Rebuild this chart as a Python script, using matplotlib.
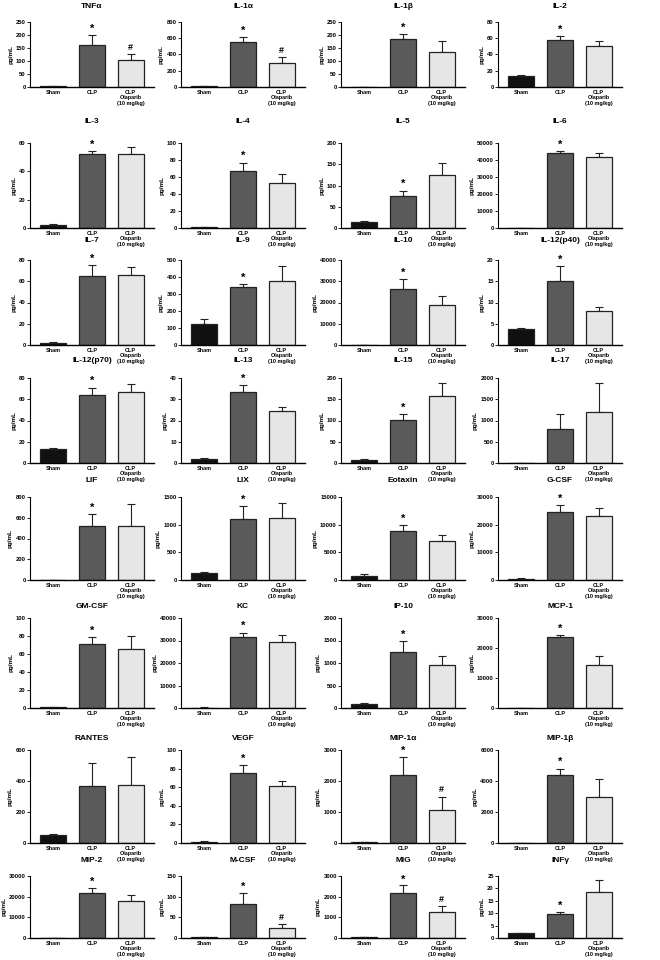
import matplotlib
matplotlib.use("Agg")
import matplotlib.pyplot as plt
import numpy as np

plt.rcParams['font.family'] = ['Liberation Sans', 'DejaVu Sans']
plt.rcParams['font.weight'] = 'bold'

# panel names, in reading order (4 per row)
names = ['TNFα', 'IL-1α', 'IL-1β', 'IL-2',
         'IL-3', 'IL-4', 'IL-5', 'IL-6',
         'IL-7', 'IL-9', 'IL-10', 'IL-12(p40)',
         'IL-12(p70)', 'IL-13', 'IL-15', 'IL-17',
         'LIF', 'LIX', 'Eotaxin', 'G-CSF',
         'GM-CSF', 'KC', 'IP-10', 'MCP-1',
         'RANTES', 'VEGF', 'MIP-1α', 'MIP-1β',
         'MIP-2', 'M-CSF', 'MIG', 'INFγ']

ymax = [250, 800, 250, 80,
        60, 100, 200, 50000,
        80, 500, 40000, 20,
        80, 40, 200, 2000,
        800, 1500, 15000, 30000,
        100, 40000, 2000, 30000,
        600, 100, 3000, 6000,
        30000, 150, 3000, 25]

ystep = [50, 200, 50, 20,
         20, 20, 50, 10000,
         20, 100, 10000, 5,
         20, 10, 50, 500,
         200, 500, 5000, 10000,
         20, 10000, 500, 10000,
         200, 20, 1000, 2000,
         10000, 50, 1000, 5]

sham = [2, 12, 1, 14,
        2, 1, 13, 0,
        2, 125, 0, 3.8,
        13, 2, 8, 0,
        0, 120, 800, 500,
        1, 200, 90, 0,
        50, 1.5, 20, 10,
        0, 2, 40, 2]
sham_err = [1, 5, 0.5, 1,
            1, 0.5, 4, 0,
            0.5, 30, 0, 0.2,
            1, 0.5, 2, 0,
            0, 30, 300, 200,
            0.5, 100, 20, 0,
            10, 0.3, 10, 5,
            0, 0.5, 10, 0.2]

clp = [160, 550, 186, 58,
       52, 67, 76, 44000,
       65, 340, 26500, 15,
       64, 33.5, 102, 800,
       520, 1100, 8900, 24500,
       71, 31500, 1250, 23700,
       370, 75, 2200, 4400,
       22000, 82, 2200, 9.7]
clp_err = [40, 70, 17, 5,
           2.5, 10, 12, 1500,
           10, 20, 4500, 3.5,
           7, 3, 14, 350,
           115, 240, 1000, 2500,
           8, 2000, 230, 700,
           145, 9, 580, 400,
           2200, 28, 350, 0.8]

olap = [105, 290, 134, 51,
        52, 53, 125, 42000,
        66, 378, 19000, 8,
        67, 24.5, 157, 1200,
        520, 1120, 7000, 23000,
        66, 29500, 950, 14200,
        375, 61, 1050, 2950,
        17800, 24, 1270, 18.5]
olap_err = [22, 80, 41, 6,
            5, 10, 27, 2000,
            7, 85, 4000, 1,
            7, 2, 32, 680,
            210, 270, 1200, 3000,
            14, 2800, 200, 3200,
            180, 6, 430, 1150,
            3000, 9, 280, 5]

clp_star = [1, 1, 1, 1, 1, 1, 1, 1, 1, 1, 1, 1, 1, 1, 1, 0,
            1, 1, 1, 1, 1, 1, 1, 1, 0, 1, 1, 1, 1, 1, 1, 1]
olap_hash = [1, 1, 0, 0, 0, 0, 0, 0, 0, 0, 0, 0, 0, 0, 0, 0,
             0, 0, 0, 0, 0, 0, 0, 0, 0, 0, 1, 0, 0, 1, 1, 0]

groups = ['Sham', 'CLP', 'CLP\nOlaparib\n(10 mg/kg)']
colors = ['#111111', '#5a5a5a', '#e6e6e6']

W, H = 660, 960
fig = plt.figure(figsize=(6.6, 9.6), dpi=100)

col_left = [30, 181, 341, 498]
row_title = [7, 121, 241, 360, 480, 606, 738, 860]
row_top = [22, 143, 260, 378, 497, 618, 750, 876]
row_bot = [87, 228, 345, 463, 580, 708, 843, 938]
ax_w = 124

for i, name in enumerate(names):
    r, c = divmod(i, 4)
    left = col_left[c] / W
    bottom = 1 - row_bot[r] / H
    h_px = row_bot[r] - row_top[r]
    ax = fig.add_axes([left, bottom, ax_w / W, h_px / H])

    means = [sham[i], clp[i], olap[i]]
    errs = [sham_err[i], clp_err[i], olap_err[i]]
    x = np.arange(3)
    ax.bar(x, means, width=0.68, color=colors, edgecolor='#222222', linewidth=0.9, zorder=2)
    ax.errorbar(x, means, yerr=[[0, 0, 0], errs], fmt='none', ecolor='#222222',
                elinewidth=0.8, capsize=3, capthick=0.8, zorder=1)

    ax.set_xlim(-0.6, 2.6)
    ax.set_ylim(0, ymax[i])
    ax.set_yticks(np.arange(0, ymax[i] + ystep[i] * 0.5, ystep[i]))
    ax.set_xticks(x)
    ax.set_xticklabels(groups, fontsize=4.0, fontweight='bold', linespacing=1.15)
    ax.tick_params(axis='x', length=0, pad=2)
    ax.tick_params(axis='y', length=2, width=0.6, labelsize=4.2, pad=1)
    for lab in ax.get_yticklabels():
        lab.set_fontweight('bold')
    ax.spines['top'].set_visible(False)
    ax.spines['right'].set_visible(False)
    ax.spines['left'].set_linewidth(0.8)
    ax.spines['bottom'].set_linewidth(1.0)
    ax.set_ylabel('pg/mL', fontsize=4.6, fontweight='bold', labelpad=2)
    ty = 1 + (row_top[r] - row_title[r]) / h_px
    ax.set_title(name, fontsize=6, fontweight='bold', y=ty, pad=0, va='center')

    off = ymax[i] * 0.015
    if clp_star[i]:
        ax.text(1, clp[i] + clp_err[i] + off, '*', ha='center', va='bottom',
                fontsize=8, fontweight='bold')
    if olap_hash[i]:
        ax.text(2, olap[i] + olap_err[i] + off * 2, '#', ha='center', va='bottom',
                fontsize=6.5, fontweight='bold')

fig.savefig('out.png', dpi=100, facecolor='white')
